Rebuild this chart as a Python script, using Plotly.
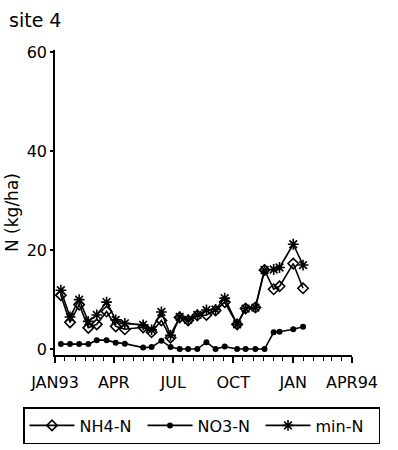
import plotly.graph_objects as go

# Sampling dates and mineral N pools (kg N/ha) at site 4
dates = ["1993-01-10", "1993-01-24", "1993-02-07", "1993-02-21", "1993-03-06",
         "1993-03-21", "1993-04-04", "1993-04-18", "1993-05-16", "1993-05-29",
         "1993-06-13", "1993-06-27", "1993-07-11", "1993-07-24", "1993-08-07",
         "1993-08-21", "1993-09-04", "1993-09-18", "1993-10-07", "1993-10-20",
         "1993-11-04", "1993-11-18", "1993-12-02", "1993-12-11", "1994-01-01",
         "1994-01-16"]
nh4 = [10.9, 5.4, 9.0, 4.3, 5.0, 7.6, 4.6, 4.0, 4.4, 3.4,
       5.8, 2.3, 6.4, 5.8, 6.8, 6.9, 7.8, 9.5, 5.0, 8.2,
       8.4, 16.0, 12.1, 12.7, 17.3, 12.3]
no3 = [1.0, 1.0, 1.0, 1.0, 1.8, 1.8, 1.3, 1.1, 0.3, 0.4,
       1.7, 0.4, 0.0, 0.0, 0.0, 1.4, 0.0, 0.5, 0.0, 0.0,
       0.0, 0.0, 3.4, 3.5, 4.0, 4.5]
min_n = [11.9, 6.5, 10.0, 5.6, 6.9, 9.5, 5.9, 5.2, 4.9, 3.9,
         7.5, 2.8, 6.5, 5.9, 6.9, 7.9, 8.0, 10.3, 5.0, 8.2,
         8.4, 16.0, 16.1, 16.5, 21.2, 17.0]

tick_dates = ["1993-01-01", "1993-04-01", "1993-07-01", "1993-10-01",
              "1994-01-01", "1994-04-01"]
tick_labels = ["JAN93", "APR", "JUL", "OCT", "JAN", "APR94"]
y_ticks = [0, 20, 40, 60]

# half-month minor ticks along the time axis
minor_dates = []
for yr, months in ((1993, range(1, 13)), (1994, range(1, 4))):
    for m in months:
        minor_dates.append(f"{yr}-{m:02d}-01")
        minor_dates.append(f"{yr}-{m:02d}-16")
minor_dates.append("1994-04-01")

FONT = "DejaVu Sans"
L, T, W, H = 55, 50, 297, 305  # plot area in px
X_RANGE = ["1993-01-01", "1994-04-01"]

fig = go.Figure()
fig.add_trace(go.Scatter(
    x=dates, y=nh4, name="NH4-N", mode="lines+markers",
    line=dict(color="black", width=1.6),
    marker=dict(symbol="diamond-open", size=8, color="black",
                line=dict(width=1.6, color="black"))))
fig.add_trace(go.Scatter(
    x=dates, y=no3, name="NO3-N", mode="lines+markers",
    line=dict(color="black", width=1.6),
    marker=dict(symbol="circle", size=6, color="black")))
fig.add_trace(go.Scatter(
    x=dates, y=min_n, name="min-N", mode="lines+markers",
    line=dict(color="black", width=1.6),
    marker=dict(symbol="asterisk-open", size=9, color="black",
                line=dict(width=1.6, color="black"))))

fig.update_layout(
    width=398, height=450,
    margin=dict(l=L, r=398 - L - W, t=T, b=450 - T - H, autoexpand=False),
    paper_bgcolor="white", plot_bgcolor="white",
    font=dict(family=FONT, size=16, color="black"),
    showlegend=True,
    legend=dict(orientation="h", xanchor="left", yanchor="top",
                x=(23 - L) / W, y=-(407 - T - H) / H,
                bordercolor="black", borderwidth=1.5,
                font=dict(family=FONT, size=16, color="black"),
                itemwidth=45, entrywidth=58, entrywidthmode="pixels"),
    xaxis=dict(type="date", range=X_RANGE,
               tickmode="array", tickvals=tick_dates, ticktext=tick_labels,
               ticks="outside", ticklen=6, tickwidth=1.5, tickcolor="black",
               ticklabelstandoff=6,
               showline=True, linecolor="black", linewidth=1.5,
               showgrid=False, zeroline=False,
               tickfont=dict(family=FONT, size=16),
               minor=dict(tickmode="array", tickvals=minor_dates,
                          ticks="outside", ticklen=4, tickwidth=1.2,
                          tickcolor="black", showgrid=False)),
    yaxis=dict(range=[-1.2, 60.5], tickmode="array", tickvals=y_ticks,
               ticks="outside", ticklen=3, tickwidth=1.5, tickcolor="black",
               showline=True, linecolor="black", linewidth=1.5,
               showgrid=False, zeroline=False,
               tickfont=dict(family=FONT, size=16)),
    annotations=[
        dict(text="site 4", xref="paper", yref="paper",
             x=(7 - L) / W, y=(T + H - 20) / H, xanchor="left",
             yanchor="middle", showarrow=False,
             font=dict(family=FONT, size=19, color="black")),
        dict(text="N (kg/ha)", xref="paper", yref="paper",
             x=(12 - L) / W, y=(T + H - 213) / H, xanchor="center",
             yanchor="middle", textangle=-90, showarrow=False,
             font=dict(family=FONT, size=17, color="black")),
    ],
)

fig.write_html("out.html")
